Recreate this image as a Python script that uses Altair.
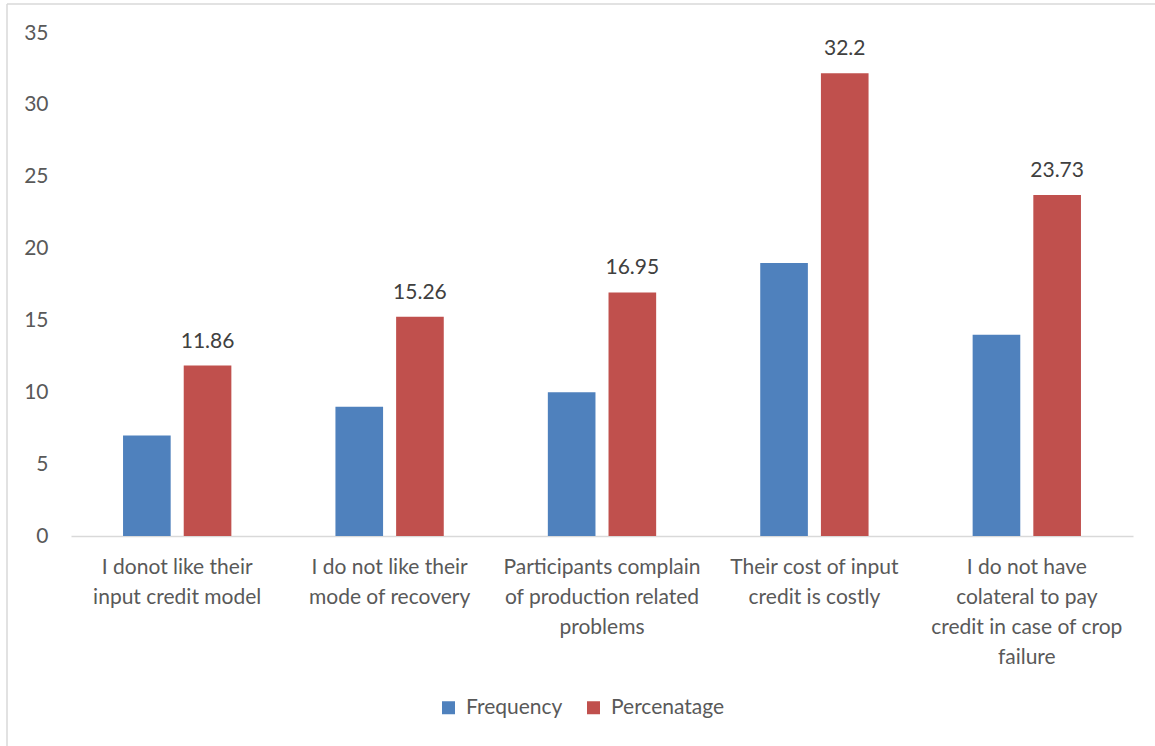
import altair as alt
import pandas as pd

# Reasons given for not taking input credit
categories = [
    "I donot like their|input credit model",
    "I do not like their|mode of recovery",
    "Participants complain|of production related|problems",
    "Their cost of input|credit is costly",
    "I do not have|colateral to pay|credit in case of crop|failure",
]
series = ["Frequency", "Percenatage"]
frequency = [7, 9, 10, 19, 14]
percentage = [11.86, 15.26, 16.95, 32.2, 23.73]
y_ticks = [0, 5, 10, 15, 20, 25, 30, 35]

colors = ["#4f81bd", "#c0504d"]
FONT = "Lato"
FS = 21

rows = []
for cat, f, p in zip(categories, frequency, percentage):
    rows.append({"category": cat, "series": series[0], "value": f})
    rows.append({"category": cat, "series": series[1], "value": p})
df = pd.DataFrame(rows)

x_enc = alt.X(
    "category:N",
    sort=categories,
    scale=alt.Scale(paddingInner=0.49, paddingOuter=0.245),
    axis=alt.Axis(
        title=None,
        labelExpr="split(datum.value, '|')",
        labelAngle=0,
        labelFont=FONT,
        labelFontSize=FS,
        labelColor="#595959",
        labelLineHeight=30,
        labelPadding=20,
        labelLimit=400,
        domainColor="#d9d9d9",
        domainWidth=1.5,
        ticks=False,
    ),
)
off_enc = alt.XOffset(
    "series:N",
    sort=series,
    scale=alt.Scale(domain=series, paddingInner=0.215, paddingOuter=0),
)
y_enc = alt.Y(
    "value:Q",
    scale=alt.Scale(domain=[0, 35], nice=False),
    axis=alt.Axis(
        title=None,
        values=y_ticks,
        grid=False,
        domain=False,
        ticks=False,
        labelFont=FONT,
        labelFontSize=FS,
        labelColor="#595959",
        labelPadding=23,
    ),
)

bars = alt.Chart(df).mark_bar().encode(
    x=x_enc,
    xOffset=off_enc,
    y=y_enc,
    color=alt.Color(
        "series:N",
        sort=series,
        scale=alt.Scale(domain=series, range=colors),
        legend=alt.Legend(
            title=None,
            orient="none",
            direction="horizontal",
            legendX=367,
            legendY=664,
            symbolType="square",
            symbolSize=169,
            symbolStrokeWidth=0,
            labelFont=FONT,
            labelFontSize=FS,
            labelColor="#595959",
            labelOffset=7,
            columnPadding=20,
        ),
    ),
)

labels = (
    alt.Chart(df)
    .transform_filter(alt.datum.series == "Percenatage")
    .mark_text(baseline="bottom", dy=-14, font=FONT, fontSize=FS, color="#404040")
    .encode(
        x=x_enc,
        xOffset=off_enc,
        y=y_enc,
        text=alt.Text("value:Q", format="~g"),
    )
)

# light frame lines along the left and top edges of the figure
frame_data = alt.Data(values=[{}])
frame_left = (
    alt.Chart(frame_data)
    .mark_rule(stroke="#d9d9d9", strokeWidth=1.5)
    .encode(x=alt.value(-64), y=alt.value(-29), y2=alt.value(760))
)
frame_top = (
    alt.Chart(frame_data)
    .mark_rule(stroke="#d9d9d9", strokeWidth=1.5)
    .encode(x=alt.value(-64), x2=alt.value(1200), y=alt.value(-29))
)

chart = (
    alt.layer(frame_left, frame_top, bars, labels)
    .properties(
        width=1062,
        height=503,
        padding={"left": 71, "top": 33, "right": 22, "bottom": 210},
        autosize=alt.AutoSizeParams(type="none"),
        background="white",
    )
    .configure_view(stroke=None)
)

chart.save("out.html", embed_options={"renderer": "svg", "actions": False})
